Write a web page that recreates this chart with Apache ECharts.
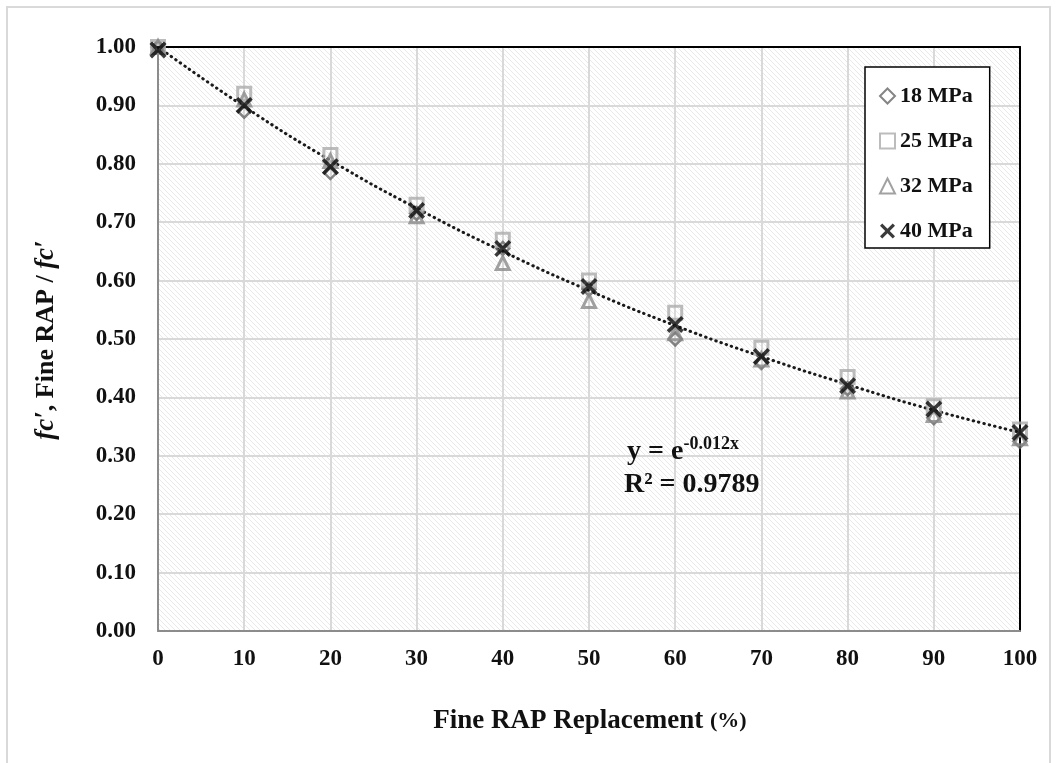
<!DOCTYPE html>
<html>
<head>
<meta charset="utf-8">
<script src="https://cdn.jsdelivr.net/npm/echarts@6/dist/echarts.min.js"></script>
<style>
html,body{margin:0;padding:0;background:#fff;}
#c{width:1057px;height:763px;}
</style>
</head>
<body>
<div id="c"></div>
<script>
// ---- data ----
const xValues = [0, 10, 20, 30, 40, 50, 60, 70, 80, 90, 100];
const s18 = [1.00, 0.89, 0.785, 0.715, 0.655, 0.585, 0.50, 0.46, 0.415, 0.365, 0.325];
const s25 = [1.00, 0.92, 0.815, 0.73, 0.67, 0.60, 0.545, 0.485, 0.435, 0.385, 0.345];
const s32 = [1.00, 0.91, 0.805, 0.71, 0.63, 0.565, 0.51, 0.465, 0.41, 0.37, 0.33];
const s40 = [0.995, 0.90, 0.795, 0.72, 0.655, 0.59, 0.525, 0.47, 0.42, 0.38, 0.34];
const trend = [1.00, 0.898, 0.806, 0.724, 0.65, 0.583, 0.523, 0.47, 0.422, 0.378, 0.34];
const seriesNames = ['18 MPa', '25 MPa', '32 MPa', '40 MPa'];
const yTicks = [0, 0.1, 0.2, 0.3, 0.4, 0.5, 0.6, 0.7, 0.8, 0.9, 1.0];

function pairs(ys) { return xValues.map((x, i) => [x, ys[i]]); }

// hatch pattern
const pc = document.createElement('canvas');
pc.width = 5; pc.height = 5;
const g = pc.getContext('2d');
g.fillStyle = '#ffffff'; g.fillRect(0, 0, 5, 5);
g.strokeStyle = '#e9e9e9'; g.lineWidth = 1;
g.beginPath();
g.moveTo(-1, -1); g.lineTo(6, 6);
g.moveTo(-1, 4); g.lineTo(1, 6);
g.moveTo(4, -1); g.lineTo(6, 1);
g.stroke();

const serif = '"Liberation Serif", "Times New Roman", serif';
const txt = '#111111';
const xPath = 'path://M0,1.5 L1.5,0 L5,3.5 L8.5,0 L10,1.5 L6.5,5 L10,8.5 L8.5,10 L5,6.5 L1.5,10 L0,8.5 L3.5,5 Z';

const chart = echarts.init(document.getElementById('c'), null, {renderer: 'canvas'});
chart.setOption({
  backgroundColor: '#ffffff',
  animation: false,
  grid: {
    left: 158, right: 37, top: 47, bottom: 132,
    show: true,
    backgroundColor: {image: pc, repeat: 'repeat'},
    borderWidth: 0
  },
  xAxis: [{
    type: 'value', min: 0, max: 100, interval: 10,
    axisLine: {show: true, onZero: false, lineStyle: {color: '#8c8c8c', width: 2}},
    axisTick: {show: false},
    splitLine: {show: true, lineStyle: {color: '#d9d9d9', width: 2}},
    axisLabel: {color: txt, fontFamily: serif, fontWeight: 'bold', fontSize: 23, margin: 17}
  }, {
    type: 'value', position: 'top', min: 0, max: 100, interval: 10,
    axisLine: {show: true, onZero: false, lineStyle: {color: '#000000', width: 2}},
    axisTick: {show: false}, axisLabel: {show: false}, splitLine: {show: false}
  }],
  yAxis: [{
    type: 'value', min: 0, max: 1, interval: 0.1,
    axisLine: {show: true, onZero: false, lineStyle: {color: '#8c8c8c', width: 2}},
    axisTick: {show: false},
    splitLine: {show: true, lineStyle: {color: '#d9d9d9', width: 2}},
    axisLabel: {color: txt, fontFamily: serif, fontWeight: 'bold', fontSize: 23, margin: 22,
      formatter: v => { const t = yTicks.find(k => Math.abs(k - v) < 1e-6); return (t === undefined ? v : t).toFixed(2); }}
  }, {
    type: 'value', position: 'right', min: 0, max: 1, interval: 0.1,
    axisLine: {show: true, onZero: false, lineStyle: {color: '#000000', width: 2}},
    axisTick: {show: false}, axisLabel: {show: false}, splitLine: {show: false}
  }],
  legend: {
    orient: 'vertical', left: 865, top: 67,
    data: seriesNames,
    backgroundColor: '#ffffff', borderColor: '#000000', borderWidth: 1.5,
    padding: [18, 17, 6, 14], itemGap: 23, itemWidth: 15, itemHeight: 15,
    textStyle: {color: txt, fontFamily: serif, fontWeight: 'bold', fontSize: 22}
  },
  graphic: [
    {type: 'rect', shape: {x: 7, y: 7, width: 1043, height: 820}, silent: true, z: -10,
      style: {fill: 'none', stroke: '#d9d9d9', lineWidth: 2}},
    {type: 'text', x: 590, y: 721, style: {
      text: '{a|Fine RAP Replacement }{b|(%)}', align: 'center', verticalAlign: 'middle',
      rich: {a: {fontFamily: serif, fontWeight: 'bold', fontSize: 27, fill: txt},
             b: {fontFamily: serif, fontWeight: 'bold', fontSize: 22, fill: txt}}}},
    {type: 'text', x: 46, y: 340, rotation: Math.PI / 2, style: {
      text: '{i|fc′}{n|, Fine RAP / }{i|fc′}', align: 'center', verticalAlign: 'middle',
      rich: {i: {fontFamily: serif, fontWeight: 'bold', fontStyle: 'italic', fontSize: 27, fill: txt},
             n: {fontFamily: serif, fontWeight: 'bold', fontSize: 26, fill: txt}}}},
    {type: 'text', x: 627, y: 452, z: 100, style: {
      text: '{a|y = e}{s|-0.012x}', align: 'left', verticalAlign: 'middle',
      rich: {a: {fontFamily: serif, fontWeight: 'bold', fontSize: 28, fill: txt},
             s: {fontFamily: serif, fontWeight: 'bold', fontSize: 18, fill: txt, padding: [0, 0, 16, 0]}}}},
    {type: 'text', x: 624, y: 485, z: 100, style: {
      text: 'R² = 0.9789', align: 'left', verticalAlign: 'middle',
      fontFamily: serif, fontWeight: 'bold', fontSize: 28, fill: txt}}
  ],
  series: [
    {name: 'trend', type: 'line', data: pairs(trend), smooth: true, symbol: 'none', silent: true,
      lineStyle: {color: '#1a1a1a', width: 3, type: [0.5, 5], cap: 'round'}, z: 2},
    {name: '18 MPa', type: 'scatter', data: pairs(s18), symbol: 'diamond', symbolSize: 13,
      itemStyle: {color: 'rgba(255,255,255,0)', borderColor: '#666666', borderWidth: 2.5}, z: 3},
    {name: '25 MPa', type: 'scatter', data: pairs(s25), symbol: 'rect', symbolSize: 13,
      itemStyle: {color: 'rgba(255,255,255,0)', borderColor: '#ababab', borderWidth: 3}, z: 3},
    {name: '32 MPa', type: 'scatter', data: pairs(s32), symbol: 'triangle', symbolSize: 13,
      itemStyle: {color: 'rgba(255,255,255,0)', borderColor: '#8a8a8a', borderWidth: 3}, z: 3},
    {name: '40 MPa', type: 'scatter', data: pairs(s40), symbol: xPath, symbolSize: 17,
      itemStyle: {color: '#0a0a0a'}, z: 4}
  ]
});
</script>
</body>
</html>
